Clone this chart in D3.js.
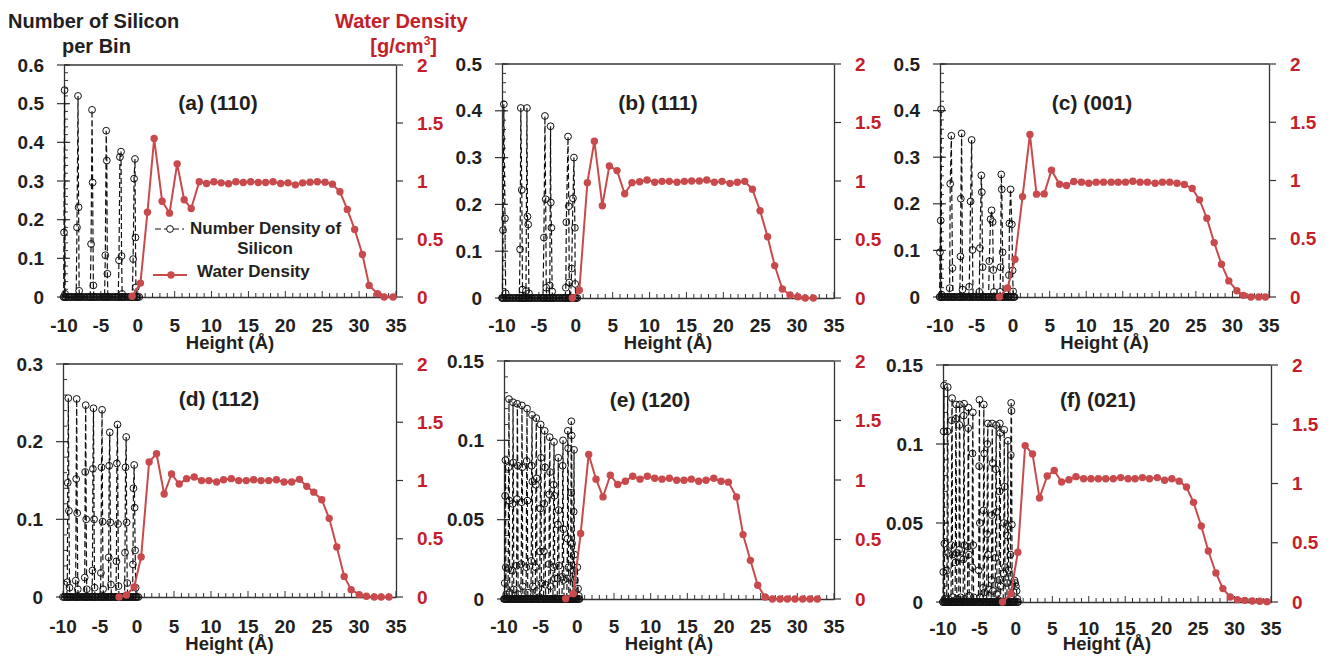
<!DOCTYPE html>
<html><head><meta charset="utf-8">
<script src="https://cdn.jsdelivr.net/npm/d3@7"></script>
<style>
body{margin:0;background:#fff}
svg text{font-family:"Liberation Sans",Arial,sans-serif;font-weight:bold}
</style>
</head><body>
<svg id="chart" width="1332" height="656"></svg>
<script>
// ---------------- DATA ----------------
const xTicks = [-10, -5, 0, 5, 10, 15, 20, 25, 30, 35];
const rightTicks = [0, 0.5, 1, 1.5, 2];
const panelTitles = ["(a) (110)", "(b) (111)", "(c) (001)", "(d) (112)", "(e) (120)", "(f) (021)"];
const leftMax = [0.6, 0.5, 0.5, 0.3, 0.15, 0.15];
const leftMajor = [0.1, 0.1, 0.1, 0.1, 0.05, 0.05];
const leftMinor = [0.02, 0.02, 0.02, 0.02, 0.01, 0.01];

// Water density (g/cm3) per bin
const waterXA = [-0.77,0.36,1.31,2.22,3.30,4.30,5.34,6.29,7.24,8.33,9.32,10.32,11.3,12.3,13.3,14.3,15.3,16.33,17.33,18.33,19.37,20.36,21.36,22.35,23.35,24.34,25.38,26.38,27.4,28.4,29.4,30.45,31.36,32.5,33.4,34.6];
const waterA  = [0.006,0.12,0.73,1.366,0.826,0.723,1.148,0.838,0.763,0.993,0.978,0.993,0.984,0.976,0.993,0.987,0.993,0.987,0.987,0.993,0.978,0.984,0.967,0.984,0.99,0.993,0.99,0.973,0.907,0.755,0.582,0.367,0.10,0.029,0,0];
const waterXB = [-0.47,0.48,1.57,2.52,3.6,4.55,5.59,6.63,7.62,8.66,9.66,10.7,11.69,12.68,13.72,14.72,15.71,16.75,17.75,18.78,19.82,20.9,21.9,22.9,23.94,24.98,26.0,26.96,28.0,29.04,30.1,31.1,32.2];
const waterB  = [0,0.066,0.986,1.34,0.789,1.129,1.089,0.891,0.986,0.994,1.009,0.989,0.997,0.997,0.989,0.997,1.0,1.0,1.009,0.989,0.997,0.98,0.989,0.997,0.929,0.746,0.523,0.277,0.077,0.026,0.011,0,0];
const waterXC = [-1.89,-0.76,0.25,1.29,2.3,3.2,4.25,5.25,6.35,7.3,8.3,9.35,10.35,11.36,12.37,13.42,14.37,15.37,16.37,17.37,18.37,19.42,20.42,21.42,22.42,23.42,24.5,25.5,26.5,27.5,28.5,29.5,30.6,31.5,32.53,33.58,34.5];
const waterC  = [0,0.077,0.324,0.862,1.395,0.883,0.885,1.089,0.968,0.957,0.991,0.986,0.977,0.986,0.986,0.986,0.986,0.986,0.994,0.986,0.986,0.977,0.986,0.986,0.977,0.966,0.931,0.834,0.676,0.467,0.281,0.138,0.054,0.014,0,0,0];
const waterXD = [-2.42,-1.43,-0.39,0.56,1.64,2.64,3.67,4.67,5.7,6.7,7.73,8.73,9.72,10.76,11.7,12.74,13.74,14.77,15.76,16.76,17.8,18.84,19.87,20.9,21.95,22.94,23.89,24.97,25.97,27.0,28.0,28.94,30.03,31.0,32.06,33.0,34.04];
const waterD  = [0,0.017,0.086,0.343,1.159,1.23,0.884,1.056,0.97,1.016,1.03,0.999,0.999,0.987,1.007,1.016,0.999,0.999,1.007,0.999,0.999,1.007,0.987,0.987,1.01,0.95,0.9,0.835,0.675,0.429,0.177,0.063,0.02,0.006,0,0,0];
const waterXE = [-1.59,-0.55,0.45,1.55,2.55,3.5,4.5,5.5,6.55,7.55,8.55,9.55,10.55,11.55,12.55,13.55,14.55,15.55,16.55,17.55,18.6,19.6,20.6,21.7,22.6,23.6,24.6,25.6,26.6,27.64,28.64,29.68,30.73,31.73,32.73];
const waterE  = [0.003,0.045,0.55,1.215,1.007,0.858,1.04,0.962,0.99,1.032,1.007,1.032,1.015,1.007,1.015,0.998,0.998,1.007,0.99,0.998,1.015,0.99,0.982,0.858,0.541,0.325,0.115,0.017,0,0,0,0,0,0,0];
const waterXF = [-1.84,-0.7,0.27,1.27,2.28,3.24,4.3,5.26,6.27,7.28,8.24,9.29,10.3,11.31,12.32,13.37,14.38,15.39,16.35,17.36,18.33,19.4,20.4,21.4,22.4,23.4,24.37,25.43,26.4,27.44,28.4,29.4,30.4,31.4,32.44,33.45,34.45];
const waterF  = [0,0.07,0.42,1.32,1.25,0.878,1.063,1.11,1.013,1.032,1.058,1.04,1.04,1.04,1.04,1.04,1.05,1.04,1.04,1.05,1.04,1.05,1.027,1.04,1.02,0.97,0.841,0.641,0.43,0.245,0.113,0.042,0.02,0.014,0.008,0.006,0.003];

// Silicon number density per bin: empty bins (value 0) in the silicon region
const siliconZeroX = [-10,-9.8,-9.6,-9.4,-9.2,-9,-8.8,-8.6,-8.4,-8.2,-8,-7.8,-7.6,-7.4,-7.2,-7,-6.8,-6.6,-6.4,-6.2,-6,-5.8,-5.6,-5.4,-5.2,-5,-4.8,-4.6,-4.4,-4.2,-4,-3.8,-3.6,-3.4,-3.2,-3,-2.8,-2.6,-2.4,-2.2,-2,-1.8,-1.6,-1.4,-1.2,-1,-0.8,-0.6,-0.4,-0.2,0,0.2];

// Silicon peaks, [height, count] in path order
const siliconA = [[-10.05,0],[-10.0,0.167],[-9.92,0.535],[-9.85,0.008],[-9.8,0],
 [-8.35,0],[-8.24,0.18],[-8.1,0.52],[-8.02,0.232],[-7.95,0.016],[-7.88,0],
 [-6.45,0],[-6.33,0.137],[-6.2,0.484],[-6.12,0.296],[-6.02,0.03],[-5.95,0],
 [-4.5,0],[-4.4,0.108],[-4.28,0.43],[-4.2,0.353],[-4.12,0.06],[-4.05,0],
 [-2.65,0],[-2.55,0.095],[-2.42,0.362],[-2.27,0.376],[-2.2,0.106],[-2.12,0.008],[-2.05,0],
 [-0.75,0],[-0.63,0.098],[-0.5,0.306],[-0.38,0.357],[-0.32,0.154],[-0.25,0.025],[-0.15,0]];
const siliconB = [[-9.95,0],[-9.86,0.145],[-9.75,0.414],[-9.6,0.17],[-9.5,0.01],[-9.42,0],
 [-7.65,0],[-7.55,0.104],[-7.45,0.406],[-7.32,0.231],[-7.22,0.018],[-7.15,0],
 [-6.85,0],[-6.75,0.015],[-6.62,0.406],[-6.55,0.174],[-6.45,0.157],[-6.35,0.01],[-6.28,0],
 [-4.45,0],[-4.32,0.129],[-4.18,0.389],[-4.08,0.211],[-4.0,0.022],[-3.92,0],
 [-3.6,0],[-3.52,0.027],[-3.42,0.367],[-3.38,0.204],[-3.3,0.15],[-3.2,0.014],[-3.12,0],
 [-1.45,0],[-1.35,0.022],[-1.28,0.162],[-1.05,0.345],[-0.95,0.196],[-0.88,0.033],[-0.8,0],
 [-0.7,0],[-0.56,0.063],[-0.38,0.213],[-0.25,0.30],[-0.12,0.15],[-0.08,0.03],[0.0,0]];
const siliconC = [[-10.05,0],[-10.0,0.096],[-9.9,0.164],[-9.85,0.403],[-9.78,0.005],[-9.7,0],
 [-8.78,0],[-8.68,0.019],[-8.6,0.243],[-8.45,0.346],[-8.3,0.062],[-8.22,0],
 [-7.3,0],[-7.2,0.087],[-7.15,0.211],[-7.04,0.351],[-6.92,0.016],[-6.85,0],
 [-6.08,0],[-6.0,0.022],[-5.82,0.205],[-5.67,0.337],[-5.55,0.101],[-5.48,0],
 [-4.7,0],[-4.63,0.011],[-4.54,0.105],[-4.35,0.261],[-4.28,0.225],[-4.17,0.064],[-4.1,0],
 [-3.35,0],[-3.26,0.077],[-3.08,0.167],[-2.94,0.186],[-2.8,0.161],[-2.71,0.058],[-2.62,0.011],[-2.55,0],
 [-1.85,0],[-1.78,0.011],[-1.72,0.064],[-1.62,0.263],[-1.55,0.231],[-1.44,0.096],[-1.36,0],
 [-0.65,0],[-0.57,0.047],[-0.5,0.158],[-0.35,0.231],[-0.17,0.156],[-0.07,0.057],[0.0,0.012],[0.1,0]];
const siliconD = [[-9.48,0],[-9.42,0.019],[-9.36,0.147],[-9.28,0.256],[-9.2,0.111],[-9.12,0.012],[-9.05,0],
 [-8.35,0],[-8.28,0.021],[-8.22,0.152],[-8.15,0.255],[-8.08,0.108],[-8.0,0.01],[-7.93,0],
 [-7.12,0],[-7.06,0.025],[-7.0,0.161],[-6.93,0.247],[-6.86,0.1],[-6.8,0.01],[-6.73,0],
 [-6.08,0],[-6.02,0.034],[-5.96,0.165],[-5.88,0.243],[-5.8,0.1],[-5.74,0.012],[-5.67,0],
 [-4.95,0],[-4.88,0.031],[-4.8,0.167],[-4.72,0.241],[-4.65,0.097],[-4.58,0.01],[-4.5,0],
 [-3.88,0],[-3.82,0.051],[-3.76,0.169],[-3.68,0.212],[-3.6,0.096],[-3.52,0.016],[-3.45,0],
 [-2.85,0],[-2.78,0.046],[-2.72,0.172],[-2.64,0.222],[-2.56,0.094],[-2.5,0.014],[-2.42,0],
 [-1.68,0],[-1.62,0.057],[-1.55,0.167],[-1.46,0.206],[-1.4,0.096],[-1.32,0.018],[-1.25,0],
 [-0.6,0],[-0.55,0.042],[-0.48,0.14],[-0.38,0.17],[-0.32,0.115],[-0.25,0.06],[-0.18,0.012],[-0.1,0]];
const siliconE = [[-9.95,0],[-9.9,0.01],[-9.85,0.065],[-9.8,0.0875],[-9.75,0.02],[-9.7,0.003],[-9.65,0],
 [-9.47,0],[-9.42,0.019],[-9.37,0.083],[-9.32,0.126],[-9.27,0.062],[-9.22,0.004],[-9.17,0],
 [-8.92,0],[-8.87,0.018],[-8.82,0.06],[-8.77,0.124],[-8.72,0.086],[-8.67,0.006],[-8.62,0],
 [-8.33,0],[-8.28,0.021],[-8.23,0.063],[-8.18,0.123],[-8.13,0.084],[-8.08,0.003],[-8.03,0],
 [-7.7,0],[-7.65,0.022],[-7.6,0.061],[-7.55,0.122],[-7.5,0.083],[-7.45,0.008],[-7.4,0],
 [-7.01,0],[-6.96,0.02],[-6.91,0.087],[-6.86,0.12],[-6.81,0.062],[-6.76,0.004],[-6.71,0],
 [-6.33,0],[-6.28,0.024],[-6.23,0.084],[-6.18,0.116],[-6.13,0.074],[-6.08,0.008],[-6.03,0],
 [-5.75,0],[-5.7,0.02],[-5.65,0.072],[-5.6,0.114],[-5.55,0.076],[-5.5,0.005],[-5.45,0],
 [-5.15,0],[-5.1,0.03],[-5.05,0.057],[-5.0,0.11],[-4.95,0.089],[-4.9,0.01],[-4.85,0],
 [-4.6,0],[-4.55,0.03],[-4.5,0.06],[-4.45,0.106],[-4.4,0.083],[-4.35,0.009],[-4.3,0],
 [-3.92,0],[-3.87,0.022],[-3.82,0.066],[-3.77,0.102],[-3.72,0.08],[-3.67,0.008],[-3.62,0],
 [-3.33,0],[-3.28,0.02],[-3.23,0.072],[-3.18,0.099],[-3.13,0.065],[-3.08,0.013],[-3.03,0],
 [-2.75,0],[-2.7,0.013],[-2.65,0.047],[-2.6,0.089],[-2.55,0.056],[-2.5,0.021],[-2.45,0],
 [-2.1,0],[-2.05,0.014],[-2.0,0.084],[-1.95,0.1],[-1.9,0.044],[-1.85,0.012],[-1.8,0],
 [-1.45,0],[-1.4,0.013],[-1.35,0.038],[-1.3,0.106],[-1.25,0.095],[-1.2,0.02],[-1.15,0],
 [-0.97,0],[-0.92,0.025],[-0.87,0.067],[-0.82,0.112],[-0.77,0.103],[-0.72,0.035],[-0.67,0],
 [-0.6,0],[-0.55,0.018],[-0.5,0.055],[-0.45,0.094],[-0.4,0.028],[-0.35,0.012],[-0.3,0],
 [-0.1,0],[0.0,0.02],[0.1,0.0065],[0.2,0.002],[0.3,0]];
const siliconF = [[-10.0,0],[-9.96,0.019],[-9.91,0.108],[-9.86,0.137],[-9.81,0.037],[-9.76,0.002],[-9.71,0],
 [-9.5,0],[-9.45,0.02],[-9.4,0.108],[-9.35,0.136],[-9.3,0.031],[-9.25,0.002],[-9.2,0],
 [-8.9,0],[-8.85,0.036],[-8.8,0.115],[-8.75,0.129],[-8.7,0.03],[-8.65,0.003],[-8.6,0],
 [-8.35,0],[-8.3,0.025],[-8.25,0.116],[-8.2,0.125],[-8.15,0.031],[-8.1,0.002],[-8.05,0],
 [-7.85,0],[-7.8,0.033],[-7.75,0.112],[-7.7,0.125],[-7.65,0.028],[-7.6,0.003],[-7.55,0],
 [-7.25,0],[-7.2,0.027],[-7.15,0.118],[-7.1,0.1255],[-7.05,0.036],[-7.0,0.002],[-6.95,0],
 [-6.65,0],[-6.6,0.035],[-6.55,0.11],[-6.5,0.123],[-6.45,0.03],[-6.4,0.004],[-6.35,0],
 [-6.05,0],[-6.0,0.022],[-5.95,0.094],[-5.9,0.12],[-5.85,0.036],[-5.8,0.003],[-5.75,0],
 [-5.15,0],[-5.1,0.02],[-5.05,0.086],[-5.0,0.128],[-4.95,0.05],[-4.9,0.003],[-4.85,0],
 [-4.55,0],[-4.5,0.009],[-4.45,0.058],[-4.4,0.125],[-4.35,0.094],[-4.3,0.006],[-4.25,0],
 [-4.0,0],[-3.95,0.043],[-3.9,0.1],[-3.85,0.113],[-3.8,0.03],[-3.75,0.008],[-3.7,0],
 [-3.4,0],[-3.35,0.014],[-3.3,0.055],[-3.25,0.113],[-3.2,0.088],[-3.15,0.007],[-3.1,0],
 [-2.85,0],[-2.8,0.028],[-2.75,0.084],[-2.7,0.112],[-2.65,0.057],[-2.6,0.005],[-2.55,0],
 [-2.35,0],[-2.3,0.014],[-2.25,0.07],[-2.2,0.113],[-2.15,0.107],[-2.1,0.01],[-2.05,0],
 [-1.75,0],[-1.7,0.018],[-1.65,0.05],[-1.6,0.109],[-1.55,0.073],[-1.5,0.022],[-1.45,0],
 [-1.25,0],[-1.2,0.012],[-1.15,0.042],[-1.1,0.102],[-1.05,0.048],[-1.0,0.02],[-0.95,0],
 [-0.8,0],[-0.75,0.03],[-0.7,0.093],[-0.65,0.126],[-0.6,0.121],[-0.55,0.049],[-0.5,0],
 [-0.3,0],[-0.2,0.0137],[-0.1,0.012],[0.0,0.01],[0.1,0.007],[0.2,0.002],[0.3,0]];

const waterX = [waterXA, waterXB, waterXC, waterXD, waterXE, waterXF];
const waterY = [waterA, waterB, waterC, waterD, waterE, waterF];
const silicon = [siliconA, siliconB, siliconC, siliconD, siliconE, siliconF];

// ---------------- LAYOUT ----------------
const frames = [
  {x0:64,  x1:396,  y0:65,  y1:297, tx:218,  ty:103, tickY:325, labY:343},
  {x0:502, x1:834,  y0:64,  y1:298, tx:658,  ty:103, tickY:325, labY:343},
  {x0:940, x1:1269, y0:64,  y1:297, tx:1092, ty:103, tickY:325, labY:343},
  {x0:63,  x1:396,  y0:364, y1:597, tx:219,  ty:399, tickY:626, labY:644},
  {x0:504, x1:834,  y0:361, y1:599, tx:650,  ty:400, tickY:626, labY:644},
  {x0:943, x1:1271, y0:365, y1:602, tx:1098, ty:400, tickY:628, labY:644}
];
const INK = "#231f20", AXIS = "#333", RED_TXT = "#c41e2a", RED = "#c94a4c";

const svg = d3.select("#chart");

frames.forEach((f, i) => {
  const g = svg.append("g");
  const x = d3.scaleLinear().domain([-10, 35]).range([f.x0, f.x1]);
  const yL = d3.scaleLinear().domain([0, leftMax[i]]).range([f.y1, f.y0]);
  const yR = d3.scaleLinear().domain([0, 2]).range([f.y1, f.y0]);

  // frame
  g.append("line").attr("x1", f.x0).attr("x2", f.x1).attr("y1", f.y0).attr("y2", f.y0)
    .attr("stroke", AXIS).attr("stroke-width", 1.3);

  // bottom axis
  const xMinor = d3.range(-10, 35.01, 1);
  const bottom = d3.axisBottom(x).tickValues(xMinor).tickSize(0).tickFormat("");
  const gb = g.append("g").attr("transform", `translate(0,${f.y1})`).call(bottom);
  gb.select(".domain").attr("stroke", AXIS).attr("stroke-width", 1.3);
  g.selectAll(null).data(xMinor).enter().append("line")
    .attr("x1", d => x(d)).attr("x2", d => x(d))
    .attr("y1", f.y1).attr("y2", d => xTicks.includes(d) ? f.y1 - 6 : f.y1 - 4)
    .attr("stroke", AXIS).attr("stroke-width", 1);
  g.selectAll(null).data(xTicks).enter().append("text")
    .attr("x", d => x(d)).attr("y", f.tickY).attr("dy", "0.35em")
    .attr("text-anchor", "middle").attr("font-size", 19).attr("fill", INK)
    .text(d => d);
  g.append("text").attr("x", (f.x0 + f.x1) / 2).attr("y", f.labY).attr("dy", "0.35em")
    .attr("text-anchor", "middle").attr("font-size", 18.5).attr("fill", INK).text("Height (Å)");

  // left axis
  const nMaj = Math.round(leftMax[i] / leftMajor[i]);
  const major = d3.range(0, nMaj + 1).map(k => +(k * leftMajor[i]).toFixed(4));
  const nMin = Math.round(leftMax[i] / leftMinor[i]);
  const minor = d3.range(0, nMin + 1).map(k => +(k * leftMinor[i]).toFixed(4));
  const left = d3.axisLeft(yL).tickValues(major).tickSize(0).tickFormat("");
  const gl = g.append("g").attr("transform", `translate(${f.x0},0)`).call(left);
  gl.select(".domain").attr("stroke", AXIS).attr("stroke-width", 1.3);
  g.selectAll(null).data(minor).enter().append("line")
    .attr("x1", f.x0).attr("x2", f.x0 + 4).attr("y1", d => yL(d)).attr("y2", d => yL(d))
    .attr("stroke", AXIS).attr("stroke-width", 1);
  g.selectAll(null).data(major).enter().append("line")
    .attr("x1", f.x0 - 7).attr("x2", f.x0 + 6).attr("y1", d => yL(d)).attr("y2", d => yL(d))
    .attr("stroke", AXIS).attr("stroke-width", 1.2);
  g.selectAll(null).data(major).enter().append("text")
    .attr("x", f.x0 - 20).attr("y", d => yL(d)).attr("dy", "0.35em")
    .attr("text-anchor", "end").attr("font-size", 19).attr("fill", INK)
    .text(d => d3.format("~g")(d));

  // right axis
  const right = d3.axisRight(yR).tickValues(rightTicks).tickSize(0).tickFormat("");
  const gr = g.append("g").attr("transform", `translate(${f.x1},0)`).call(right);
  gr.select(".domain").attr("stroke", AXIS).attr("stroke-width", 1.3);
  g.selectAll(null).data(rightTicks).enter().append("line")
    .attr("x1", f.x1).attr("x2", f.x1 + 7).attr("y1", d => yR(d)).attr("y2", d => yR(d))
    .attr("stroke", AXIS).attr("stroke-width", 1.2);
  g.selectAll(null).data(rightTicks).enter().append("text")
    .attr("x", f.x1 + 21).attr("y", d => yR(d)).attr("dy", "0.35em")
    .attr("text-anchor", "start").attr("font-size", 19).attr("fill", RED_TXT)
    .text(d => d);

  // silicon series
  const si = silicon[i];
  const siLine = d3.line().x(d => x(d[0])).y(d => yL(d[1]));
  const zeros = siliconZeroX.map(v => [v, 0]);
  g.append("path").attr("d", siLine(zeros)).attr("fill", "none")
    .attr("stroke", "#111").attr("stroke-width", 1.2).attr("stroke-dasharray", "6,3");
  g.append("path").attr("d", siLine(si)).attr("fill", "none")
    .attr("stroke", "#111").attr("stroke-width", 1.2).attr("stroke-dasharray", "6,3");
  g.selectAll(null).data(zeros.concat(si)).enter().append("circle")
    .attr("cx", d => x(d[0])).attr("cy", d => yL(d[1])).attr("r", 3.4)
    .attr("fill", "none").attr("stroke", "#111").attr("stroke-width", 1);

  // water series
  const wd = waterX[i].map((v, k) => [v, waterY[i][k]]);
  const wLine = d3.line().x(d => x(d[0])).y(d => yR(d[1]));
  g.append("path").attr("d", wLine(wd)).attr("fill", "none")
    .attr("stroke", RED).attr("stroke-width", 2);
  g.selectAll(null).data(wd).enter().append("circle")
    .attr("cx", d => x(d[0])).attr("cy", d => yR(d[1])).attr("r", 3.7).attr("fill", RED);

  // panel title
  g.append("text").attr("x", f.tx).attr("y", f.ty).attr("dy", "0.35em")
    .attr("text-anchor", "middle").attr("font-size", 21).attr("fill", INK).text(panelTitles[i]);
});

// headers
svg.append("text").attr("x", 8).attr("y", 28).attr("font-size", 20).attr("fill", INK).text("Number of Silicon");
svg.append("text").attr("x", 62).attr("y", 53).attr("font-size", 20).attr("fill", INK).text("per Bin");
svg.append("text").attr("x", 335).attr("y", 28).attr("font-size", 20).attr("fill", RED_TXT).text("Water Density");
const gcm = svg.append("text").attr("x", 437).attr("y", 53).attr("text-anchor", "end").attr("font-size", 20).attr("fill", RED_TXT);
gcm.append("tspan").text("[g/cm");
gcm.append("tspan").attr("dy", -8).attr("font-size", 12).text("3");
gcm.append("tspan").attr("dy", 8).text("]");

// legend in panel (a)
const lg = svg.append("g");
lg.append("line").attr("x1", 155).attr("x2", 184).attr("y1", 229).attr("y2", 229)
  .attr("stroke", "#111").attr("stroke-width", 1.2).attr("stroke-dasharray", "6,3");
lg.append("circle").attr("cx", 170).attr("cy", 229).attr("r", 3.4).attr("fill", "#fff").attr("stroke", "#111").attr("stroke-width", 1);
lg.append("text").attr("x", 190).attr("y", 234).attr("font-size", 17).attr("fill", INK).text("Number Density of");
lg.append("text").attr("x", 265).attr("y", 254).attr("text-anchor", "middle").attr("font-size", 17).attr("fill", INK).text("Silicon");
lg.append("line").attr("x1", 153).attr("x2", 187).attr("y1", 275).attr("y2", 275).attr("stroke", RED).attr("stroke-width", 2);
lg.append("circle").attr("cx", 171).attr("cy", 275).attr("r", 3.7).attr("fill", RED);
lg.append("text").attr("x", 197).attr("y", 277).attr("font-size", 17).attr("fill", INK).text("Water Density");
</script>
</body></html>
